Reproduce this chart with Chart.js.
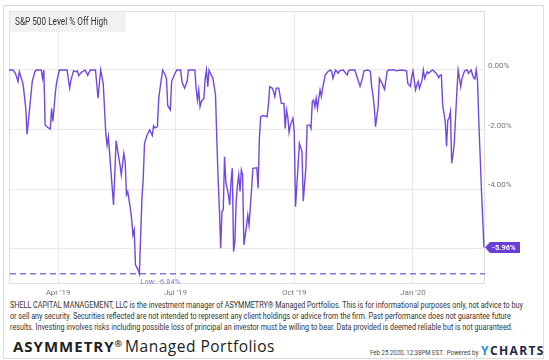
<!DOCTYPE html>
<html>
<head>
<meta charset="utf-8">
<script src="https://cdn.jsdelivr.net/npm/chart.js@4.4.1/dist/chart.umd.min.js"></script>
<style>
  body { margin: 0; background: #fff; }
  #wrap { position: relative; width: 549px; height: 360px; overflow: hidden; font-family: Roboto, sans-serif; }
  #card { position: absolute; left: 3px; top: 5px; width: 541px; height: 354px;
    border: 1px solid #dcdcdc; box-sizing: border-box; }
  #myChart { position: absolute; left: 0; top: 0; }
  #leyenda { position: absolute; left: 9px; top: 11px; width: 117px; height: 21px;
    background: rgba(232, 232, 232, 0.55); }
  #leyenda span { position: absolute; left: 6px; top: 5px; color: #333; font-size: 10px;
    line-height: 11px; white-space: nowrap; transform-origin: left top; }
  #aviso { position: absolute; left: 10px; top: 300px; font-size: 9px; line-height: 11px;
    color: #333; white-space: nowrap; transform-origin: left top; }
  #marca { position: absolute; left: 13px; top: 335px; font-family: "Open Sans", sans-serif;
    font-size: 15px; color: #222; white-space: nowrap; line-height: 18px; }
  #marca b { letter-spacing: 1px; }
  #marca sup { font-size: 9px; font-weight: 700; vertical-align: 5px; margin-right: 3px; }
  #marca i { font-style: normal; font-size: 15.5px; letter-spacing: 0.5px; }
  #sello { position: absolute; left: 370px; top: 348px; font-size: 7.5px; color: #444;
    white-space: nowrap; line-height: 10px; transform-origin: left top; }
  #yc { position: absolute; left: 481px; top: 343px; font-family: "Open Sans", sans-serif;
    font-weight: 700; font-size: 12px; letter-spacing: 1.4px; color: #1c2a48; line-height: 16px; }
  #yc span { color: #1f8fe0; }
</style>
</head>
<body>
<div id="wrap">
  <div id="card"></div>
  <canvas id="myChart" width="549" height="300"></canvas>
  <div id="leyenda"><span>S&amp;P 500 Level % Off High</span></div>
  <div id="aviso">SHELL CAPITAL MANAGEMENT, LLC is the investment manager of ASYMMETRY® Managed Portfolios. This is for informational purposes only, not advice to buy<br>or sell any security. Securities reflected are not intended to represent any client holdings or advice from the firm. Past performance does not guarantee future<br>results. Investing involves risks including possible loss of principal an investor must be willing to bear. Data provided is deemed reliable but is not guaranteed.</div>
  <div id="marca"><b>ASYMMETRY</b><sup>®</sup><i>Managed Portfolios</i></div>
  <div id="sello">Feb 25 2020, 12:38PM EST.&nbsp; Powered by</div>
  <div id="yc"><span>Y</span>CHARTS</div>
</div>
<script>
const fuente = 'Roboto, sans-serif';

const fechas = [
  "2019-02-22","2019-02-25","2019-02-27","2019-03-01","2019-03-02","2019-03-04","2019-03-05","2019-03-07","2019-03-08","2019-03-10",
  "2019-03-12","2019-03-14","2019-03-15","2019-03-18","2019-03-19","2019-03-20","2019-03-21","2019-03-22","2019-03-24","2019-03-26",
  "2019-03-27","2019-03-28","2019-03-30","2019-03-31","2019-04-02","2019-04-08","2019-04-10","2019-04-11","2019-04-13","2019-04-15",
  "2019-04-16","2019-04-17","2019-04-19","2019-04-21","2019-04-22","2019-04-24","2019-04-26","2019-04-30","2019-05-02","2019-05-04",
  "2019-05-06","2019-05-08","2019-05-09","2019-05-10","2019-05-12","2019-05-14","2019-05-16","2019-05-19","2019-05-20","2019-05-22",
  "2019-05-23","2019-05-24","2019-05-25","2019-05-27","2019-05-28","2019-05-29","2019-05-30","2019-05-31","2019-06-02","2019-06-03",
  "2019-06-05","2019-06-06","2019-06-07","2019-06-09","2019-06-11","2019-06-13","2019-06-14","2019-06-15","2019-06-17","2019-06-18",
  "2019-06-21","2019-06-23","2019-06-24","2019-06-25","2019-06-27","2019-06-28","2019-06-30","2019-07-02","2019-07-05","2019-07-06",
  "2019-07-08","2019-07-10","2019-07-11","2019-07-16","2019-07-17","2019-07-18","2019-07-19","2019-07-20","2019-07-21","2019-07-23",
  "2019-07-24","2019-07-25","2019-07-26","2019-07-27","2019-07-28","2019-07-30","2019-08-01","2019-08-02","2019-08-03","2019-08-04",
  "2019-08-05","2019-08-06","2019-08-07","2019-08-08","2019-08-09","2019-08-11","2019-08-12","2019-08-13","2019-08-14","2019-08-15",
  "2019-08-16","2019-08-17","2019-08-18","2019-08-19","2019-08-20","2019-08-21","2019-08-22","2019-08-23","2019-08-25","2019-08-26",
  "2019-08-27","2019-08-29","2019-08-30","2019-09-02","2019-09-03","2019-09-04","2019-09-05","2019-09-07","2019-09-10","2019-09-11",
  "2019-09-12","2019-09-14","2019-09-15","2019-09-16","2019-09-17","2019-09-19","2019-09-21","2019-09-23","2019-09-24","2019-09-25",
  "2019-09-26","2019-09-27","2019-09-28","2019-09-30","2019-10-01","2019-10-02","2019-10-04","2019-10-05","2019-10-07","2019-10-08",
  "2019-10-10","2019-10-11","2019-10-13","2019-10-14","2019-10-15","2019-10-16","2019-10-17","2019-10-18","2019-10-19","2019-10-20",
  "2019-10-21","2019-10-22","2019-10-23","2019-10-25","2019-10-27","2019-10-29","2019-10-30","2019-10-31","2019-11-02","2019-11-04",
  "2019-11-05","2019-11-08","2019-11-11","2019-11-12","2019-11-13","2019-11-17","2019-11-19","2019-11-21","2019-11-23","2019-11-24",
  "2019-11-27","2019-11-29","2019-11-30","2019-12-01","2019-12-02","2019-12-03","2019-12-05","2019-12-06","2019-12-08","2019-12-10",
  "2019-12-12","2019-12-13","2019-12-18","2019-12-19","2019-12-23","2019-12-27","2019-12-28","2019-12-30","2019-12-31","2020-01-01",
  "2020-01-03","2020-01-04","2020-01-05","2020-01-06","2020-01-08","2020-01-09","2020-01-10","2020-01-12","2020-01-13","2020-01-16",
  "2020-01-17","2020-01-19","2020-01-21","2020-01-22","2020-01-23","2020-01-24","2020-01-26","2020-01-27","2020-01-28","2020-01-29",
  "2020-01-30","2020-01-31","2020-02-01","2020-02-02","2020-02-04","2020-02-05","2020-02-07","2020-02-08","2020-02-10","2020-02-12",
  "2020-02-13","2020-02-15","2020-02-17","2020-02-18","2020-02-19","2020-02-20","2020-02-21","2020-02-23","2020-02-25"
];

const pctOffHigh = [
  0, 0, -0.11, -0.39, -0.06, -0.34, -0.5, -1.29, -2.16, -1.29,
  -0.39, -0.06, 0, 0, 0, -0.28, 0, -1.85, -1.93, -1.98,
  -1.29, -1.73, -0.73, -0.39, 0, 0, -0.61, -0.34, -0.03, -0.06,
  -0.03, -0.19, -0.08, -0.03, 0, -0.18, 0, 0, -0.95, 0,
  -0.45, -2.13, -2.52, -2.24, -3.41, -4.53, -2.38, -3.19, -3.52, -2.8,
  -3.08, -4.19, -4.08, -4.64, -4.98, -5.54, -5.37, -6.54, -6.71, -6.84,
  -4.31, -3.64, -2.46, -2.18, -2.01, -2.2, -1.87, -1.94, -1.9, -0.95,
  0, -0.17, -0.3, -1.2, -1.34, -0.39, -0.17, 0, 0, -0.39,
  -0.61, -0.39, 0, 0, -0.61, -1.01, -0.67, -1.23, -1.06, -0.95,
  -0.28, 0, -0.56, 0, -0.11, -0.28, -0.84, -2.29, -3.64, -4.64,
  -5.98, -4.75, -4.7, -2.91, -3.75, -4.19, -4.53, -3.75, -3.3, -6.1,
  -5.76, -4.42, -3.86, -3.52, -4.08, -3.36, -3.52, -5.87, -5.25, -4.87,
  -5.2, -3.97, -3.3, -3.28, -3.97, -2.29, -1.57, -1.53, -1.57, -1.17,
  -0.56, -0.61, -0.73, -0.9, -0.61, -0.61, -1.12, -1.12, -1.96, -1.34,
  -1.57, -2.1, -1.85, -1.62, -2.07, -4.59, -3.19, -2.46, -2.74, -4.4,
  -3.3, -1.85, -1.85, -1.96, -1.06, -1.01, -1.23, -0.95, -1.29, -0.95,
  -0.67, -0.89, -0.61, -0.17, -0.06, 0, -0.05, -0.28, 0, -0.11,
  -0.03, 0, -0.17, -0.03, 0, 0, -0.28, -0.55, -0.25, -0.03,
  0, -0.05, -0.56, -0.84, -1.23, -1.9, -1.23, -0.28, -0.45, -0.65,
  -0.05, 0, 0, -0.03, 0, -0.03, -0.45, -0.55, -0.22, -0.03,
  -0.67, -0.5, -0.39, -0.62, -0.34, 0, -0.28, -0.06, -0.11, 0,
  -0.03, -0.11, -0.26, -0.17, -0.17, -1.17, -1.73, -2.57, -1.68, -1.62,
  -1.4, -3.13, -2.85, -2.46, -0.73, 0, -0.56, -0.28, -0.03, 0,
  -0.11, 0, -0.26, -0.3, 0, -0.34, -1.73, -3.97, -5.96
];

const tickFechas = ["2019-04-01", "2019-07-01", "2019-10-01", "2020-01-01"];
const tickLabels = ["Apr '19", "Jul '19", "Oct '19", "Jan '20"];
const yTicks = [-6, -4, -2, 0];

// dias desde el 25-feb-2019
function diaNum(f) {
  const [a, m, d] = f.split("-").map(Number);
  return (Date.UTC(a, m - 1, d) - Date.UTC(2019, 1, 25)) / 864e5;
}

// estrecha un texto hasta el ancho que tiene en la imagen
function ajustar(el, ancho) {
  el.style.transform = "scaleX(" + ancho / el.scrollWidth + ")";
}

const puntos = fechas.map((f, i) => ({ x: diaNum(f), y: pctOffHigh[i] }));
const minimo = Math.min(...pctOffHigh);
const iMin = pctOffHigh.indexOf(minimo);
const ultimo = pctOffHigh[pctOffHigh.length - 1];

const marcas = {
  id: "marcas",
  beforeDatasetsDraw(chart) {
    const { ctx, chartArea: a } = chart;
    ctx.save();
    ctx.strokeStyle = "#dedede";
    ctx.lineWidth = 1;
    ctx.strokeRect(a.left + 0.5, a.top + 0.5, a.right - a.left - 1, a.bottom - a.top);
    ctx.restore();
  },
  afterDatasetsDraw(chart) {
    const { ctx, chartArea: a, scales } = chart;
    const yLow = scales.y.getPixelForValue(minimo);
    const xLow = scales.x.getPixelForValue(diaNum(fechas[iMin]));
    ctx.save();
    // linea del minimo
    ctx.strokeStyle = "#8e70e4";
    ctx.lineWidth = 1.5;
    ctx.setLineDash([6, 4]);
    ctx.beginPath();
    ctx.moveTo(a.left + 1, yLow);
    ctx.lineTo(a.right, yLow);
    ctx.stroke();
    ctx.setLineDash([]);
    ctx.fillStyle = "#8e70e4";
    ctx.font = "7.5px " + fuente;
    ctx.textBaseline = "middle";
    ctx.fillText("Low: " + minimo.toFixed(2) + "%", xLow + 1, yLow + 8);

    // etiqueta ultimo valor
    const yU = scales.y.getPixelForValue(ultimo);
    const x0 = a.right;
    ctx.fillStyle = "#6a3fd6";
    ctx.beginPath();
    ctx.moveTo(x0, yU);
    ctx.lineTo(x0 + 5, yU - 5.5);
    ctx.lineTo(x0 + 35, yU - 5.5);
    ctx.lineTo(x0 + 35, yU + 5.5);
    ctx.lineTo(x0 + 5, yU + 5.5);
    ctx.closePath();
    ctx.fill();
    ctx.fillStyle = "#fff";
    ctx.font = "bold 7.5px " + fuente;
    ctx.fillText(ultimo.toFixed(2) + "%", x0 + 7, yU + 0.5);
    ctx.restore();
  }
};

const ctx = document.getElementById("myChart");
const chart = new Chart(ctx, {
  type: "line",
  data: {
    datasets: [{
      data: puntos,
      borderColor: "#7149dc",
      borderWidth: 1.4,
      pointRadius: 0,
      tension: 0,
      fill: false
    }]
  },
  options: {
    responsive: false,
    animation: false,
    devicePixelRatio: 1,
    layout: { padding: { left: 9, top: 11, right: 4, bottom: 0 } },
    plugins: { legend: { display: false }, tooltip: { enabled: false } },
    scales: {
      x: {
        type: "linear",
        min: diaNum("2019-02-22"),
        max: diaNum("2020-02-25") + 0.8,
        afterBuildTicks: (ax) => { ax.ticks = tickFechas.map((f) => ({ value: diaNum(f) })); },
        afterFit: (ax) => { ax.height = 17; },
        grid: { color: "#e9e9e9", drawTicks: false },
        border: { display: false },
        ticks: {
          autoSkip: false, maxRotation: 0, padding: 5, color: "#777",
          font: { family: fuente, size: 8 },
          callback: (v, i) => tickLabels[i]
        }
      },
      y: {
        position: "right",
        min: -7.15,
        max: 1.98,
        afterBuildTicks: (ax) => { ax.ticks = yTicks.map((v) => ({ value: v })); },
        afterFit: (ax) => { ax.width = 60; },
        grid: { color: "#e9e9e9", drawTicks: false },
        border: { display: false },
        ticks: {
          padding: 3, labelOffset: -4, color: "#777",
          font: { family: fuente, size: 8 },
          callback: (v) => (v === -6 ? "" : v.toFixed(2) + "%")
        }
      }
    }
  },
  plugins: [marcas]
});

ajustar(document.querySelector("#leyenda span"), 93);
ajustar(document.getElementById("aviso"), 513);
ajustar(document.getElementById("sello"), 108);
</script>
</body>
</html>
